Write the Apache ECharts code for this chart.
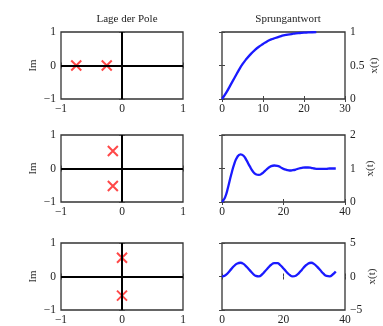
<!DOCTYPE html>
<html><head><meta charset="utf-8">
<script src="https://cdn.jsdelivr.net/npm/echarts@6/dist/echarts.min.js"></script>
<style>html,body{margin:0;padding:0;background:#fff}#c{width:383px;height:326px}</style>
</head><body><div id="c"></div>
<script>
// ---- data ----
const titleLeft = "Lage der Pole";
const titleRight = "Sprungantwort";
const poles1 = [[-0.75, 0], [-0.25, 0]];
const poles2 = [[-0.15, 0.52], [-0.15, -0.52]];
const poles3 = [[0, 0.56], [0, -0.57]];
const step1T = [0,1,2,3,4,5,6,7,8,9,10,11,12,13,14,15,16,17,18,19,20,21,22,23];
const step1X = [0,0.09,0.2,0.31,0.42,0.52,0.60,0.67,0.73,0.78,0.82,0.86,0.89,0.91,0.93,0.95,0.96,0.97,0.98,0.985,0.99,0.993,0.996,0.998];
const step2T = [0,1,2,3,4,5,6,7,8,9,10,11,12,13,14,15,16,17,18,19,20,21,22,23,24,25,26,27,28,29,30,31,32,33,34,35,36,37];
const step2X = [0,0.14,0.45,0.82,1.14,1.35,1.42,1.38,1.24,1.07,0.92,0.83,0.81,0.85,0.93,1.01,1.07,1.09,1.08,1.04,0.99,0.96,0.94,0.95,0.97,1.0,1.02,1.03,1.03,1.02,1.0,0.99,0.99,0.99,0.99,1.0,1.0,1.0];
const step3T = [0,1,2,3,4,5,6,7,8,9,10,11,12,13,14,15,16,17,18,19,20,21,22,23,24,25,26,27,28,29,30,31,32,33,34,35,36,37];
const step3X = [0,0.15,0.57,1.1,1.6,1.95,2.05,1.88,1.45,0.95,0.45,0.1,0.03,0.3,0.78,1.3,1.75,2.0,2.0,1.68,1.2,0.68,0.25,0.02,0.12,0.5,1.02,1.55,1.92,2.05,1.85,1.43,0.92,0.43,0.08,0.03,0.3,0.75];
const poleTicks = [-1, 0, 1];
const stepRanges = [[0,30,10,0,1,0.5],[0,40,20,0,2,1],[0,40,20,-5,5,5]];

// ---- layout ----
const FONT = 'Liberation Serif';
const rowTops = [32, 135, 243];
const rowHeights = [67, 67, 69];
const leftL = 61, leftW = 122, rightL = 222, rightW = 123;
const fmt = v => String(v).replace('-', '\u2212');
const lbl = {fontFamily: FONT, fontSize: 11.5, color: '#222'};

const grid = [], xAxis = [], yAxis = [], series = [];
const poles = [poles1, poles2, poles3];
const steps = [[step1T, step1X], [step2T, step2X], [step3T, step3X]];

function addAxes(gi, xr, yr, yPos, yName) {
  const xi = xAxis.length, yi = yAxis.length;
  const base = {axisLine: {show: false}, splitLine: {show: false},
    axisTick: {show: true, inside: true, length: 3, lineStyle: {color: '#444'}}};
  xAxis.push(Object.assign({}, base, {type: 'value', gridIndex: gi, min: xr[0], max: xr[1], interval: xr[2], position: 'bottom',
    axisLabel: Object.assign({margin: 4, formatter: fmt, showMinLabel: true, showMaxLabel: true}, lbl)}));
  xAxis.push(Object.assign({}, base, {type: 'value', gridIndex: gi, min: xr[0], max: xr[1], interval: xr[2], position: 'top',
    axisLabel: {show: false}}));
  yAxis.push(Object.assign({}, base, {type: 'value', gridIndex: gi, min: yr[0], max: yr[1], interval: yr[2], position: yPos,
    axisLabel: Object.assign({margin: 5, formatter: fmt, showMinLabel: true, showMaxLabel: true}, lbl),
    name: yName, nameLocation: 'middle', nameRotate: 90, nameGap: yPos === 'left' ? 22 : 20,
    nameTextStyle: {fontFamily: FONT, fontSize: 11, color: '#333'}}));
  yAxis.push(Object.assign({}, base, {type: 'value', gridIndex: gi, min: yr[0], max: yr[1], interval: yr[2], position: yPos === 'left' ? 'right' : 'left',
    axisLabel: {show: false}}));
  return [xi, yi];
}

for (let r = 0; r < 3; r++) {
  grid.push({left: leftL, top: rowTops[r], width: leftW, height: rowHeights[r], show: true, borderColor: '#333', borderWidth: 1.3, backgroundColor: '#fff'});
  let [xi, yi] = addAxes(grid.length - 1, [poleTicks[0], poleTicks[2], 1], [poleTicks[0], poleTicks[2], 1], 'left', 'Im');
  series.push({type: 'scatter', xAxisIndex: xi, yAxisIndex: yi, data: poles[r],
    symbol: 'path://M0,0L10,10M10,0L0,10', symbolSize: 10,
    itemStyle: {color: 'none', borderColor: '#ff1a1a', borderWidth: 2},
    markLine: {silent: true, symbol: 'none', label: {show: false},
      lineStyle: {color: '#000', width: 2, type: 'solid'},
      data: [{xAxis: 0}, {yAxis: 0}]},
    z: 3});
  const sr = stepRanges[r];
  grid.push({left: rightL, top: rowTops[r], width: rightW, height: rowHeights[r], show: true, borderColor: '#333', borderWidth: 1.3, backgroundColor: '#fff'});
  [xi, yi] = addAxes(grid.length - 1, [sr[0], sr[1], sr[2]], [sr[3], sr[4], sr[5]], 'right', 'x(t)');
  const [T, X] = steps[r];
  series.push({type: 'line', xAxisIndex: xi, yAxisIndex: yi, data: T.map((t, i) => [t, X[i]]),
    smooth: true, showSymbol: false, lineStyle: {color: '#1a1aff', width: 2.3}});
}

const chart = echarts.init(document.getElementById('c'), null, {renderer: 'canvas'});
chart.setOption({
  animation: false,
  backgroundColor: '#fff',
  title: [
    {text: titleLeft, left: 122, top: 9, textAlign: 'center', textStyle: {fontFamily: FONT, fontSize: 11, fontWeight: 'normal', color: '#222'}},
    {text: titleRight, left: 283, top: 9, textAlign: 'center', textStyle: {fontFamily: FONT, fontSize: 11, fontWeight: 'normal', color: '#222'}}
  ],
  grid, xAxis, yAxis, series
});
</script></body></html>
